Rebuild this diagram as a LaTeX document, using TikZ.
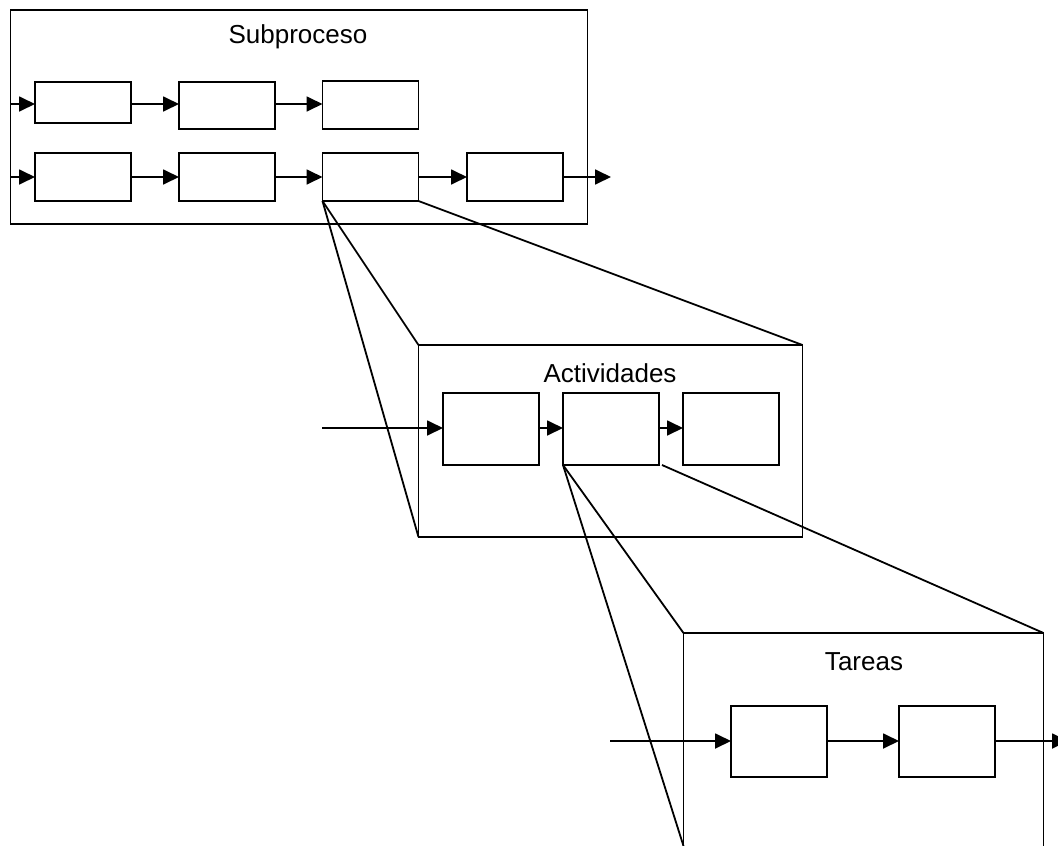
\documentclass[tikz,border=0pt]{standalone}
\usepackage{fontspec}
\setmainfont{Liberation Sans}
\usetikzlibrary{arrows.meta}
\begin{document}
\begin{tikzpicture}[x=1pt,y=-1pt,line width=1.8pt,
  box/.style={draw,inner sep=0pt,outer sep=0pt,minimum width=#1},
  box/.default=96pt,
  title/.style={font=\fontsize{26}{30}\selectfont,inner sep=0pt},
  flow/.style={-{Triangle[length=16pt,width=15pt]}},
  zoomline/.style={line width=1.8pt}]
\useasboundingbox (0,0) rectangle (1058,846);
% Subproceso
\node[box=577pt,minimum height=214pt] (sub) at (299,117) {};
\node[title] (tsub) at (298,37) {Subproceso};
\node[box,minimum height=41pt] (a1) at (83,102.5) {};
\node[box,minimum height=47pt] (a2) at (227,105.5) {};
\node[box,minimum height=48pt] (a3) at (370.5,105) {};
\node[box,minimum height=48pt] (b1) at (83,177) {};
\node[box,minimum height=48pt] (b2) at (227,177) {};
\node[box,minimum height=48pt] (b3) at (370.5,177) {};
\node[box,minimum height=48pt] (b4) at (515,177) {};
\coordinate (bout) at (611,177);
\draw[flow] (sub.west |- 0,104) -- (a1.west |- 0,104);
\draw[flow] (a1.east |- 0,104) -- (a2.west |- 0,104);
\draw[flow] (a2.east |- 0,104) -- (a3.west |- 0,104);
\draw[flow] (sub.west |- b1) -- (b1);
\draw[flow] (b1) -- (b2);
\draw[flow] (b2) -- (b3);
\draw[flow] (b3) -- (b4);
\draw[flow] (b4) -- (bout);
% Actividades
\node[box=384pt,minimum height=192pt] (act) at (610.5,441) {};
\node[title] (tact) at (610,373) {Actividades};
\node[box,minimum height=72pt] (c1) at (491,429) {};
\node[box,minimum height=72pt] (c2) at (611,429) {};
\node[box,minimum height=72pt] (c3) at (731,429) {};
\coordinate (cin) at (322,428);
\draw[flow] (cin) -- (c1.west |- cin);
\draw[flow] (c1.east |- cin) -- (c2.west |- cin);
\draw[flow] (c2.east |- cin) -- (c3.west |- cin);
\draw[zoomline] (b3.south west) -- (act.north west);
\draw[zoomline] (b3.south west) -- (act.south west);
\draw[zoomline] (b3.south east) -- (act.north east);
% Tareas
\node[inner sep=0pt,outer sep=0pt,minimum width=360pt,minimum height=220pt] (tar) at (863.5,743) {};
\draw (tar.south west) -- (tar.north west) -- (tar.north east) -- (tar.south east);
\node[title] (ttar) at (864,662) {Tareas};
\node[box,minimum height=71pt] (d1) at (779,741.5) {};
\node[box,minimum height=71pt] (d2) at (947,741.5) {};
\coordinate (din) at (610,741);
\coordinate (dout) at (1068,741);
\draw[flow] (din) -- (d1.west |- din);
\draw[flow] (d1.east |- din) -- (d2.west |- din);
\draw[flow] (d2.east |- din) -- (dout);
\draw[zoomline] (c2.south west) -- (tar.north west);
\draw[zoomline] (c2.south west) -- (tar.west |- 0,846);
\draw[zoomline] ([xshift=3pt]c2.south east) -- (tar.north east);
\end{tikzpicture}
\end{document}
